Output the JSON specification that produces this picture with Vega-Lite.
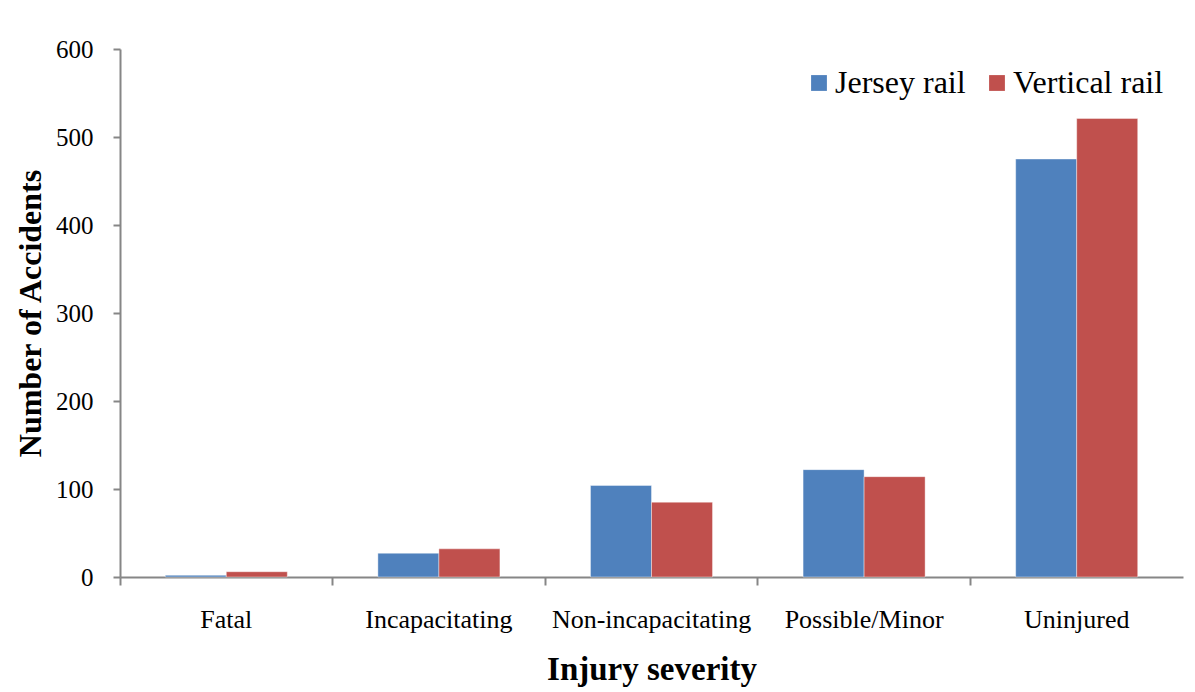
{
  "$schema": "https://vega.github.io/schema/vega-lite/v6.json",
  "autosize": "none",
  "padding": {"left": 120, "top": 49, "right": 12, "bottom": 115},
  "width": 1063,
  "height": 528,
  "background": "white",
  "data": {
    "values": [
      {"severity": "Fatal", "rail": "Jersey rail", "count": 2},
      {"severity": "Fatal", "rail": "Vertical rail", "count": 6},
      {"severity": "Incapacitating", "rail": "Jersey rail", "count": 27},
      {"severity": "Incapacitating", "rail": "Vertical rail", "count": 32},
      {"severity": "Non-incapacitating", "rail": "Jersey rail", "count": 104},
      {"severity": "Non-incapacitating", "rail": "Vertical rail", "count": 85},
      {"severity": "Possible/Minor", "rail": "Jersey rail", "count": 122},
      {"severity": "Possible/Minor", "rail": "Vertical rail", "count": 114},
      {"severity": "Uninjured", "rail": "Jersey rail", "count": 475},
      {"severity": "Uninjured", "rail": "Vertical rail", "count": 521}
    ]
  },
  "mark": {"type": "bar", "stroke": "white", "strokeOpacity": 0.4, "strokeWidth": 1},
  "encoding": {
    "x": {
      "field": "severity",
      "type": "nominal",
      "sort": null,
      "scale": {"paddingInner": 0.426, "paddingOuter": 0.213},
      "axis": {
        "title": "Injury severity",
        "labelAngle": 0,
        "labelLimit": 0,
        "labelFont": "Liberation Serif",
        "labelFontSize": 26,
        "labelColor": "black",
        "labelPadding": 21,
        "titleFont": "Liberation Serif",
        "titleFontSize": 33,
        "titleFontWeight": "bold",
        "titleColor": "black",
        "titlePadding": 21,
        "domainColor": "#868686",
        "domainWidth": 2,
        "tickColor": "#868686",
        "tickWidth": 2,
        "tickSize": 8,
        "bandPosition": -0.371
      }
    },
    "xOffset": {"field": "rail", "type": "nominal", "scale": {"paddingInner": 0, "paddingOuter": 0}},
    "y": {
      "field": "count",
      "type": "quantitative",
      "scale": {"domain": [0, 600]},
      "axis": {
        "title": "Number of Accidents",
        "values": [0, 100, 200, 300, 400, 500, 600],
        "grid": false,
        "labelFont": "Liberation Serif",
        "labelFontSize": 25,
        "labelColor": "black",
        "labelPadding": 20,
        "titleFont": "Liberation Serif",
        "titleFontSize": 32,
        "titleFontWeight": "bold",
        "titleColor": "black",
        "titlePadding": 8,
        "domainColor": "#868686",
        "domainWidth": 2,
        "tickColor": "#868686",
        "tickWidth": 2,
        "tickSize": 7
      }
    },
    "color": {
      "field": "rail",
      "type": "nominal",
      "scale": {"domain": ["Jersey rail", "Vertical rail"], "range": ["#4F81BD", "#C0504D"]},
      "legend": {
        "title": null,
        "orient": "none",
        "direction": "horizontal",
        "legendX": 683,
        "legendY": 18,
        "symbolType": "square",
        "symbolSize": 250,
        "symbolStrokeWidth": 0,
        "labelFont": "Liberation Serif",
        "labelFontSize": 32,
        "labelColor": "black",
        "labelOffset": 0,
        "columnPadding": 15
      }
    }
  },
  "config": {"view": {"stroke": null}}
}
